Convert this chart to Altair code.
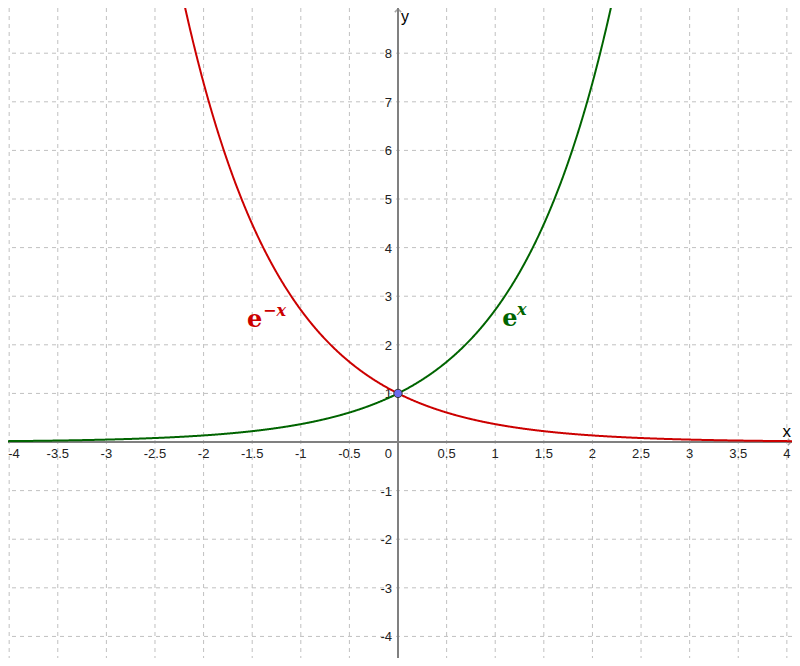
import altair as alt
import pandas as pd

# ---- data ----
x_ticks = [-3.5, -3, -2.5, -2, -1.5, -1, -0.5, 0.5, 1, 1.5, 2, 2.5, 3, 3.5, 4]
x_tick_labels = ["-3.5", "-3", "-2.5", "-2", "-1.5", "-1", "-0.5",
                 "0.5", "1", "1.5", "2", "2.5", "3", "3.5", "4"]
x_edge_tick = [-4]
x_edge_label = ["-4"]
x_grid = [-4, -3.5, -3, -2.5, -2, -1.5, -1, -0.5, 0, 0.5, 1, 1.5, 2, 2.5, 3, 3.5, 4]
y_ticks = [-4, -3, -2, -1, 1, 2, 3, 4, 5, 6, 7, 8]
y_tick_labels = ["-4", "-3", "-2", "-1", "1", "2", "3", "4", "5", "6", "7", "8"]
y_grid = [-4, -3, -2, -1, 0, 1, 2, 3, 4, 5, 6, 7, 8]

x_sample = [-4.2, 4.2, 0.005]          # start, stop, step for the function plot
functions = {"e^x": "exp(datum.x)", "e^-x": "exp(-datum.x)"}
curve_colors = {"e^x": "#006400", "e^-x": "#cc0000"}

intersection_x = [0]
intersection_y = [1]

label_base_x = [-1.476, 1.152]
label_base_y = [2.37, 2.39]
label_base_text = ["e", "e"]
label_sup_x = [-1.389, 1.224]
label_sup_y = [2.60, 2.62]
label_sup_text = ["\u2212x", "x"]
label_colors = ["#cc0000", "#006400"]

X_DOMAIN = [-4.012, 4.053]
Y_DOMAIN = [-4.444, 8.930]
W, H = 784, 650

xs = alt.Scale(domain=X_DOMAIN, nice=False, zero=False)
ys = alt.Scale(domain=Y_DOMAIN, nice=False, zero=False)
X = lambda f: alt.X(f, type="quantitative", scale=xs, axis=None)
Y = lambda f: alt.Y(f, type="quantitative", scale=ys, axis=None)

GRID = "#c0c0c0"
AXIS = "#808080"
TXT = "#222222"
FONT = "Liberation Sans"

# grid
vgrid = alt.Chart(pd.DataFrame({"x": x_grid})).mark_rule(
    color=GRID, strokeWidth=1, strokeDash=[4, 4]
).encode(x=X("x"))
hgrid = alt.Chart(pd.DataFrame({"y": y_grid})).mark_rule(
    color=GRID, strokeWidth=1, strokeDash=[4, 4]
).encode(y=Y("y"))

# axes
x_axis = alt.Chart(pd.DataFrame({"y": [0]})).mark_rule(color=AXIS, strokeWidth=2).encode(y=Y("y"))
y_axis = alt.Chart(pd.DataFrame({"x": [0]})).mark_rule(color=AXIS, strokeWidth=2).encode(x=X("x"))

x_arrow = alt.Chart(pd.DataFrame({"x": [X_DOMAIN[1] - 0.01], "y": [0]})).mark_point(
    shape="M-1,-1L0,0L-1,1", filled=False, color=AXIS, strokeWidth=1.5, size=40
).encode(x=X("x"), y=Y("y"))
y_arrow = alt.Chart(pd.DataFrame({"x": [0], "y": [Y_DOMAIN[1] - 0.02]})).mark_point(
    shape="M-1,1L0,0L1,1", filled=False, color=AXIS, strokeWidth=1.5, size=40
).encode(x=X("x"), y=Y("y"))

# tick labels
x_lab = alt.Chart(pd.DataFrame({"x": x_ticks, "t": x_tick_labels, "y": [0] * len(x_ticks)})).mark_text(
    font=FONT, fontSize=13, color=TXT, align="center", baseline="alphabetic", dy=16
).encode(x=X("x"), y=Y("y"), text="t:N")
x_lab_edge = alt.Chart(pd.DataFrame({"x": x_edge_tick, "t": x_edge_label, "y": [0]})).mark_text(
    font=FONT, fontSize=13, color=TXT, align="left", baseline="alphabetic", dx=-1, dy=16
).encode(x=X("x"), y=Y("y"), text="t:N")
zero_lab = alt.Chart(pd.DataFrame({"x": [0], "y": [0], "t": ["0"]})).mark_text(
    font=FONT, fontSize=13, color=TXT, align="right", baseline="alphabetic", dx=-6, dy=16
).encode(x=X("x"), y=Y("y"), text="t:N")
y_lab = alt.Chart(pd.DataFrame({"y": y_ticks, "t": y_tick_labels, "x": [0] * len(y_ticks)})).mark_text(
    font=FONT, fontSize=13, color=TXT, align="right", baseline="middle", dx=-6, dy=1
).encode(x=X("x"), y=Y("y"), text="t:N")

x_name = alt.Chart(pd.DataFrame({"x": [X_DOMAIN[1]], "y": [0.1], "t": ["x"]})).mark_text(
    font=FONT, fontSize=17, color="#000000", baseline="alphabetic", align="right", dx=-1
).encode(x=X("x"), y=Y("y"), text="t:N")
y_name = alt.Chart(pd.DataFrame({"x": [0.03], "y": [8.64], "t": ["y"]})).mark_text(
    font=FONT, fontSize=16, color="#000000", baseline="alphabetic", align="left"
).encode(x=X("x"), y=Y("y"), text="t:N")

# curves
curves = []
for name, expr in functions.items():
    c = alt.Chart(alt.sequence(x_sample[0], x_sample[1], x_sample[2], as_="x")).transform_calculate(
        y=expr
    ).transform_filter("datum.y < 9.5").mark_line(
        color=curve_colors[name], strokeWidth=2, clip=True
    ).encode(x=X("x"), y=Y("y"), order="x:Q")
    curves.append(c)

point = alt.Chart(pd.DataFrame({"x": intersection_x, "y": intersection_y})).mark_point(
    shape="circle", filled=True, fill="#6b6bef", stroke="#333333", strokeWidth=1, size=70, opacity=1
).encode(x=X("x"), y=Y("y"))

base_df = pd.DataFrame({"x": label_base_x, "y": label_base_y, "t": label_base_text, "c": label_colors})
sup_df = pd.DataFrame({"x": label_sup_x, "y": label_sup_y, "t": label_sup_text, "c": label_colors})
base_lab = alt.Chart(base_df).mark_text(
    font="DejaVu Serif", fontSize=24, fontWeight="bold", align="center", baseline="alphabetic"
).encode(x=X("x"), y=Y("y"), text="t:N", color=alt.Color("c:N", scale=None))
sup_lab = alt.Chart(sup_df).mark_text(
    font="DejaVu Serif", fontSize=16, fontWeight="bold", fontStyle="italic", align="left", baseline="alphabetic"
).encode(x=X("x"), y=Y("y"), text="t:N", color=alt.Color("c:N", scale=None))

chart = alt.layer(
    vgrid, hgrid, x_axis, y_axis, x_arrow, y_arrow, x_lab, x_lab_edge, zero_lab, y_lab, x_name, y_name,
    *curves, point, base_lab, sup_lab
).properties(
    width=W, height=H, padding=0, autosize=alt.AutoSizeParams(type="none")
).configure_view(stroke=None)

chart.save("out.html", embed_options={"renderer": "svg", "actions": False})
